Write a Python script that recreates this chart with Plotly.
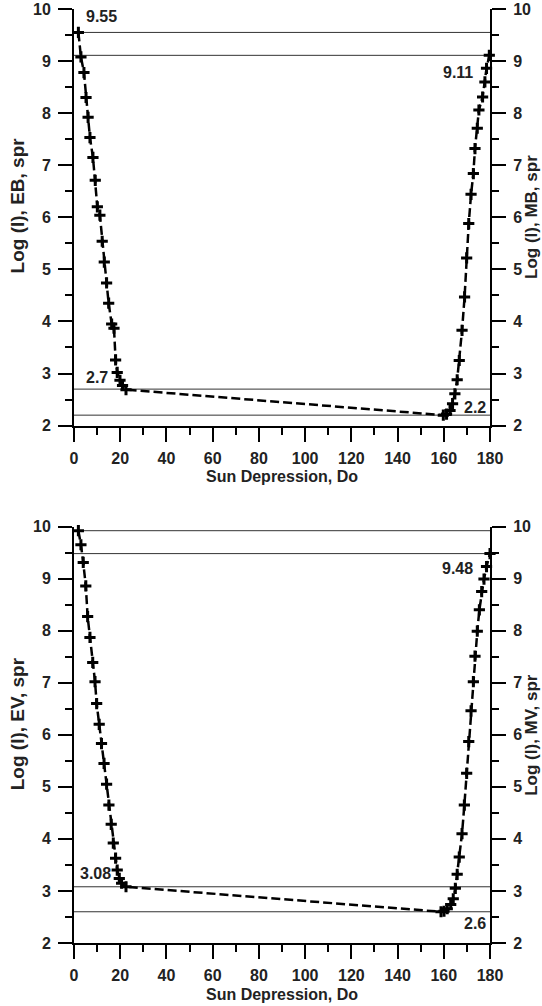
import plotly.graph_objects as go

# ---------------- data ----------------
top_x = [1.9, 3.0, 4.3, 5.2, 6.1, 6.9, 8.2, 9.2, 10.1, 11.2, 12.2, 13.1, 14.1, 15.0, 16.3, 17.3, 18.0, 18.7, 19.9, 21.0, 22.5,
         159.8, 161.2, 162.7, 163.8, 164.8, 165.8, 166.7, 167.9, 169.0, 169.9, 170.8, 171.8, 172.8, 173.5, 174.5, 175.2, 176.8, 177.8, 178.5, 179.7]
top_y = [9.55, 9.08, 8.78, 8.30, 7.92, 7.53, 7.15, 6.71, 6.20, 6.04, 5.54, 5.14, 4.74, 4.35, 3.95, 3.87, 3.26, 3.02, 2.87, 2.77, 2.69,
         2.20, 2.22, 2.29, 2.42, 2.61, 2.88, 3.25, 3.83, 4.47, 5.22, 5.88, 6.44, 6.84, 7.32, 7.71, 8.06, 8.31, 8.60, 8.86, 9.11]
top_levels = [9.55, 9.11, 2.7, 2.2]
top_labels = ["9.55", "9.11", "2.7", "2.2"]
top_label_x = [12, 166, 10, 173.5]
top_label_y = [9.85, 8.79, 2.93, 2.35]

bot_x = [1.9, 3.0, 4.0, 5.1, 5.9, 6.9, 8.1, 9.1, 9.8, 10.9, 11.9, 13.0, 14.1, 15.1, 16.1, 17.0, 18.0, 18.7, 19.6, 20.6, 22.5,
         158.8, 160.1, 161.5, 163.0, 164.1, 165.0, 165.8, 166.7, 167.9, 168.9, 169.9, 170.8, 171.8, 172.8, 173.5, 174.5, 175.4, 176.4, 177.4, 178.5, 180.0]
bot_y = [9.92, 9.65, 9.31, 8.86, 8.27, 7.87, 7.39, 7.02, 6.60, 6.20, 5.83, 5.45, 5.05, 4.65, 4.28, 3.92, 3.63, 3.40, 3.24, 3.15, 3.08,
         2.60, 2.61, 2.66, 2.74, 2.85, 3.05, 3.32, 3.65, 4.10, 4.65, 5.26, 5.87, 6.46, 7.02, 7.51, 7.99, 8.40, 8.75, 8.99, 9.23, 9.48]
bot_levels = [9.92, 9.48, 3.08, 2.6]
bot_labels = ["9.92", "9.48", "3.08", "2.6"]
bot_label_x = [11, 166, 9.5, 173.5]
bot_label_y = [10.18, 9.19, 3.33, 2.37]

x_range = [0, 180]
y_range = [2, 10]
x_tickvals = [0, 20, 40, 60, 80, 100, 120, 140, 160, 180]
x_ticktext = ["0", "20", "40", "60", "80", "100", "120", "140", "160", "180"]
y_tickvals = [2, 3, 4, 5, 6, 7, 8, 9, 10]
y_ticktext = ["2", "3", "4", "5", "6", "7", "8", "9", "10"]
x_title = "Sun Depression, Do"
top_left_title = "Log (I), EB, spr"
top_right_title = "Log (I), MB, spr"
bot_left_title = "Log (I), EV, spr"
bot_right_title = "Log (I), MV, spr"

# ---------------- figure ----------------
FONT = "Liberation Sans, Arial, sans-serif"
TXT = "#222222"
fig = go.Figure()

def add_panel(xs, ys, levels, labels, lx, ly, xa, ya, ya2):
    for lv in levels:
        fig.add_trace(go.Scatter(x=x_range, y=[lv, lv], mode="lines",
                                 line=dict(color="#333333", width=1),
                                 xaxis=xa, yaxis=ya, showlegend=False, hoverinfo="skip"))
    fig.add_trace(go.Scatter(x=xs, y=ys, mode="lines+markers",
                             line=dict(color="black", width=2.5, dash="9px,4px"),
                             marker=dict(symbol="cross-thin", size=8, color="black",
                                         line=dict(color="black", width=3)),
                             cliponaxis=False,
                             xaxis=xa, yaxis=ya, showlegend=False))
    # invisible trace so the right-hand axis is drawn
    fig.add_trace(go.Scatter(x=[xs[0]], y=[ys[0]], mode="markers", marker=dict(opacity=0),
                             xaxis=xa, yaxis=ya2, showlegend=False, hoverinfo="skip"))
    for t, x, y in zip(labels, lx, ly):
        fig.add_annotation(x=x, y=y, xref=xa, yref=ya, text="<b>" + t + "</b>", showarrow=False,
                           font=dict(family=FONT, size=16, color=TXT))

add_panel(top_x, top_y, top_levels, top_labels, top_label_x, top_label_y, "x", "y", "y2")
add_panel(bot_x, bot_y, bot_levels, bot_labels, bot_label_x, bot_label_y, "x2", "y3", "y4")

W, H = 542, 1006
ML = 74
MR = W - 490
MT = 9
MB = H - 943.3
PH = H - MT - MB
PW = W - ML - MR
top_dom = [(943.3 - 425.7) / PH, 1.0]
bot_dom = [0.0, (943.3 - 526.7) / PH]

tickfont = dict(family=FONT, size=16, color=TXT)

def xaxis(anchor):
    return dict(domain=[0, 1], anchor=anchor, range=x_range, showline=True, linecolor="black", linewidth=2,
                ticks="outside", ticklen=14, tickwidth=2, tickcolor="black",
                tickmode="array", tickvals=x_tickvals, ticktext=["<b>" + t + "</b>" for t in x_ticktext],
                minor=dict(dtick=10, tick0=0, ticks="outside", ticklen=7, tickwidth=2, tickcolor="black", showgrid=False),
                showgrid=False, zeroline=False, tickfont=tickfont, ticklabelstandoff=3, automargin=False)

def yaxis(dom, anchor, side, overlay=None):
    d = dict(domain=dom, anchor=anchor, side=side, range=y_range, showline=True, linecolor="black", linewidth=2,
             ticks="outside", ticklen=14, tickwidth=2, tickcolor="black",
             tickmode="array", tickvals=y_tickvals, ticktext=["<b>" + t + "</b>" for t in y_ticktext],
             minor=dict(dtick=0.5, tick0=0, ticks="outside", ticklen=7, tickwidth=2, tickcolor="black", showgrid=False),
             showgrid=False, zeroline=False, tickfont=tickfont, ticklabelstandoff=4, automargin=False)
    if overlay:
        d["overlaying"] = overlay
    return d

def title_ann(text, xpx, ypx, angle, size):
    fig.add_annotation(text="<b>" + text + "</b>", xref="paper", yref="paper",
                       x=(xpx - ML) / PW, y=(H - ypx - MB) / PH,
                       xanchor="center", yanchor="middle", textangle=angle, showarrow=False,
                       font=dict(family=FONT, size=size, color=TXT))

title_ann(x_title, 282, 477, 0, 16)
title_ann(x_title, 282, 994.5, 0, 16)
title_ann(top_left_title, 17.5, 206, -90, 19)
title_ann(top_right_title, 532, 217, -90, 17)
title_ann(bot_left_title, 17.5, 724, -90, 19)
title_ann(bot_right_title, 532, 735, -90, 17)

fig.update_layout(
    width=W, height=H, autosize=False,
    margin=dict(l=ML, r=MR, t=MT, b=MB, autoexpand=False),
    paper_bgcolor="white", plot_bgcolor="white",
    xaxis=xaxis("y"),
    yaxis=yaxis(top_dom, "x", "left"),
    yaxis2=yaxis(top_dom, "x", "right", overlay="y"),
    xaxis2=xaxis("y3"),
    yaxis3=yaxis(bot_dom, "x2", "left"),
    yaxis4=yaxis(bot_dom, "x2", "right", overlay="y3"),
    showlegend=False,
)

fig.write_html("out.html", config={"displayModeBar": False},
               post_script="document.body.style.margin='0';document.body.style.overflow='hidden';")
